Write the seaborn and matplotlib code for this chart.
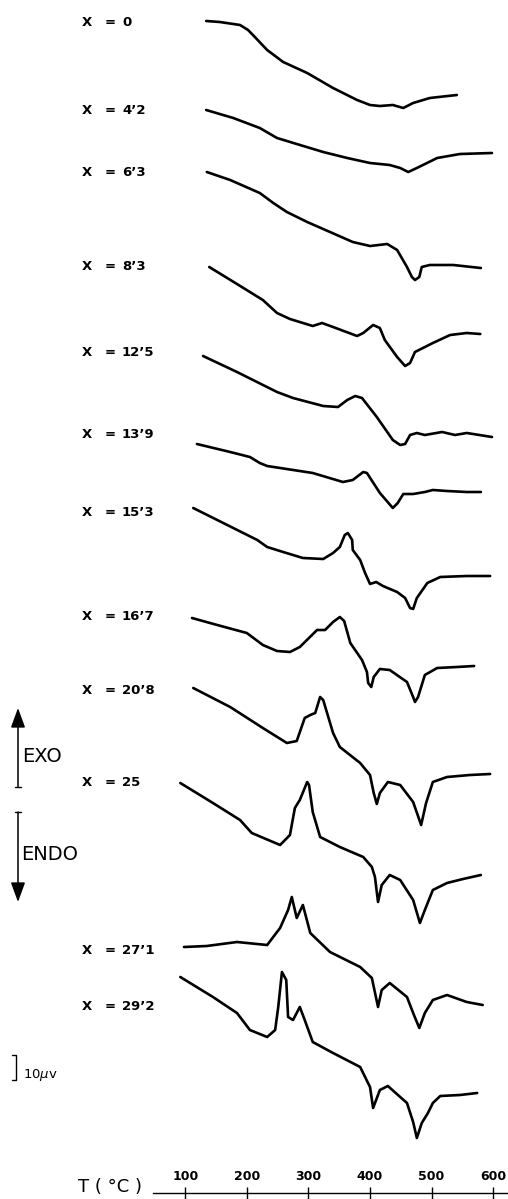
import matplotlib
matplotlib.use("Agg")
import matplotlib.pyplot as plt
import pandas as pd
import seaborn as sns
from matplotlib.transforms import blended_transform_factory

# composition labels (X = ...)
labels = ["0", "4’2", "6’3", "8’3", "12’5", "13’9", "15’3", "16’7", "20’8", "25", "27’1", "29’2"]

# baseline of each trace (µV, counted down from the top of the sheet)
offsets = [-8.4, -44.0, -68.8, -106.8, -142.4, -177.6, -203.2, -247.2, -275.2, -313.2, -378.8, -390.8]

# DTA traces: temperature (°C) and signal relative to the first point (µV, exo up)
t_00 = [134, 156, 189, 202, 213, 233, 259, 298, 340, 379, 400, 416, 437, 454, 470, 497, 541]
s_00 = [0, -0.4, -1.6, -3.6, -6.4, -11.6, -16.4, -20.8, -26.8, -31.6, -33.6, -34.0, -33.6, -34.8, -32.8, -30.8, -29.6]

t_04 = [134, 178, 221, 249, 281, 324, 363, 400, 432, 449, 462, 476, 509, 546, 598]
s_04 = [0, -3.2, -7.2, -11.2, -13.6, -16.8, -19.2, -21.2, -22.0, -23.2, -24.8, -23.2, -19.2, -17.6, -17.2]

t_06 = [135, 173, 221, 243, 265, 298, 335, 372, 400, 428, 444, 460, 468, 473, 480, 484, 497, 535, 580]
s_06 = [0, -3.2, -8.4, -12.4, -16.0, -20.0, -24.0, -28.0, -29.6, -28.8, -31.2, -38.0, -42.0, -43.2, -42.0, -38.0, -37.2, -37.2, -38.4]

t_08 = [139, 184, 226, 249, 270, 307, 322, 340, 379, 389, 405, 416, 424, 444, 457, 465, 473, 502, 530, 557, 579]
s_08 = [0, -6.8, -13.2, -18.4, -20.8, -23.6, -22.4, -24.0, -27.6, -26.4, -23.2, -24.4, -29.2, -36.0, -39.6, -38.4, -34.0, -30.4, -27.2, -26.4, -26.8]

t_12 = [129, 184, 249, 275, 324, 348, 363, 376, 387, 411, 437, 449, 457, 465, 476, 489, 517, 538, 557, 598]
s_12 = [0, -6.4, -14.4, -16.8, -20.0, -20.4, -17.6, -16.0, -16.8, -24.4, -33.6, -35.6, -35.2, -31.6, -30.8, -31.6, -30.4, -31.6, -30.8, -32.4]

t_13 = [119, 173, 205, 221, 233, 307, 356, 372, 389, 395, 416, 437, 445, 454, 470, 489, 502, 525, 557, 580]
s_13 = [0, -3.2, -5.2, -7.6, -8.8, -11.6, -15.2, -14.4, -11.2, -11.6, -19.6, -25.6, -23.6, -20.0, -20.0, -19.2, -18.4, -18.8, -19.2, -19.2]

t_15 = [113, 178, 217, 233, 259, 291, 324, 340, 351, 359, 364, 371, 372, 384, 392, 400, 410, 421, 444, 457, 465, 470, 476, 493, 514, 557, 595]
s_15 = [0, -8.0, -12.8, -15.6, -17.6, -20.0, -20.4, -18.0, -15.6, -10.8, -10.0, -12.8, -16.8, -20.8, -26.0, -30.4, -29.6, -31.2, -33.6, -36.0, -40.0, -40.4, -36.0, -30.0, -27.6, -27.2, -27.2]

t_16 = [111, 152, 200, 226, 249, 270, 286, 314, 327, 340, 351, 358, 368, 387, 395, 397, 402, 406, 416, 432, 460, 470, 473, 478, 489, 509, 541, 569]
s_16 = [0, -2.8, -6.0, -10.8, -13.2, -13.6, -11.6, -4.8, -4.8, -1.6, 0.4, -1.2, -10.0, -16.8, -21.6, -26.0, -27.6, -23.6, -20.4, -20.8, -25.6, -31.6, -33.6, -31.6, -22.8, -20.0, -19.6, -19.2]

t_20 = [113, 173, 226, 265, 281, 294, 303, 311, 319, 324, 340, 351, 384, 400, 406, 411, 416, 429, 449, 470, 483, 491, 502, 525, 562, 595]
s_20 = [0, -7.6, -16.0, -22.0, -21.2, -12.0, -10.8, -10.0, -3.6, -4.8, -18.0, -23.6, -30.0, -34.8, -42.0, -46.4, -42.0, -37.6, -38.8, -45.6, -54.8, -46.0, -37.6, -35.6, -34.8, -34.4]

t_25 = [92, 145, 189, 208, 254, 270, 278, 286, 298, 301, 307, 319, 351, 389, 403, 408, 413, 419, 432, 449, 470, 481, 489, 502, 525, 551, 580]
s_25 = [0, -8.0, -14.8, -20.0, -24.8, -20.8, -10.0, -6.8, 0.4, -0.8, -11.6, -21.6, -25.6, -29.6, -33.6, -37.6, -47.6, -40.8, -36.8, -38.8, -46.8, -56.0, -50.8, -42.8, -40.0, -38.4, -36.8]

t_27 = [98, 135, 184, 233, 254, 267, 273, 281, 291, 303, 335, 384, 403, 413, 419, 432, 460, 470, 480, 489, 502, 525, 557, 583]
s_27 = [0, 0.4, 2.0, 0.8, 7.6, 14.8, 20.0, 11.6, 16.8, 5.6, -2.0, -8.0, -12.4, -24.0, -17.2, -14.4, -20.0, -26.4, -32.4, -26.4, -21.2, -19.2, -22.0, -23.2]

t_29 = [92, 145, 184, 205, 233, 246, 251, 257, 264, 267, 275, 286, 294, 307, 340, 384, 400, 405, 416, 429, 449, 460, 470, 476, 484, 494, 502, 514, 546, 574]
s_29 = [0, -8.0, -14.4, -21.2, -24.0, -21.2, -12.0, 2.0, -1.2, -16.0, -17.2, -12.0, -17.2, -26.0, -30.4, -36.0, -44.0, -52.4, -45.2, -43.6, -48.0, -50.4, -58.0, -64.4, -58.4, -54.4, -50.4, -47.6, -47.2, -46.4]

temps = [t_00, t_04, t_06, t_08, t_12, t_13, t_15, t_16, t_20, t_25, t_27, t_29]
signals = [s_00, s_04, s_06, s_08, s_12, s_13, s_15, s_16, s_20, s_25, s_27, s_29]

temp_ticks = [100, 200, 300, 400, 500, 600]
scale_uv = 10

# layout (sheet is 508 x 1199 px)
W, H = 508, 1199
label_py = [22, 110, 173, 266, 352, 435, 513, 617, 690, 783, 950, 1006]

rows = []
for i, (t, s) in enumerate(zip(temps, signals)):
    for tt, ss in zip(t, s):
        rows.append({"curve": i, "T": tt, "y": offsets[i] + ss})
df = pd.DataFrame(rows)

sns.set_style("white")
plt.rcParams.update({"text.color": "black", "xtick.color": "black", "axes.edgecolor": "black"})

fig = plt.figure(figsize=(W / 100, H / 100), dpi=100)
ax = fig.add_axes([0, 0, 1, 1])
sns.lineplot(data=df, x="T", y="y", units="curve", estimator=None, sort=False,
             color="black", lw=1.9, legend=False, ax=ax,
             solid_capstyle="round", solid_joinstyle="round")
ax.set_xlim(-200.7, 624.0)
ax.set_ylim(-H * 0.4, 0)
ax.axis("off")

fx = lambda px: px / W
fy = lambda py: 1 - py / H
lab_font = dict(fontsize=9.5, fontweight="bold", va="center", color="black")
for lab, py in zip(labels, label_py):
    fig.text(fx(87), fy(py), "X", ha="center", **lab_font)
    fig.text(fx(110), fy(py), "=", ha="center", **lab_font)
    fig.text(fx(122), fy(py), lab, ha="left", **lab_font)

# EXO / ENDO arrows
arrow = dict(arrowstyle="-|>,head_length=0.6,head_width=0.22", color="black", lw=1.1,
             mutation_scale=20, shrinkA=0, shrinkB=0)
ax.annotate("", xy=(fx(18), fy(708)), xytext=(fx(18), fy(787)),
            xycoords="figure fraction", textcoords="figure fraction", arrowprops=arrow)
ax.annotate("", xy=(fx(18), fy(902)), xytext=(fx(18), fy(812)),
            xycoords="figure fraction", textcoords="figure fraction", arrowprops=arrow)
for py in (787, 812):
    fig.add_artist(plt.Line2D([fx(15), fx(21)], [fy(py), fy(py)], color="black", lw=1.0))
fig.text(fx(22), fy(757), "EXO", fontsize=14, va="center", ha="left", color="black")
fig.text(fx(21), fy(855), "ENDO", fontsize=14, va="center", ha="left", color="black")

# 10 µV scale bar, drawn in signal units
tr = blended_transform_factory(fig.transFigure, ax.transData)
y_top = -1055 * 0.4
ax.plot([fx(12), fx(16), fx(16), fx(12)], [y_top, y_top, y_top - scale_uv, y_top - scale_uv],
        color="black", lw=1.0, transform=tr)
fig.text(fx(23), fy(1075), "10$\\mu$v", fontsize=9.5, va="center", ha="left", color="black")

# temperature axis
ax_t = fig.add_axes([fx(153), 0, (W - 153) / W, 6 / H])
ax_t.set_xlim(400 + (153 - 370) * 1.6234, 624.0)
ax_t.set_ylim(0, 1)
for side in ("left", "right", "bottom"):
    ax_t.spines[side].set_visible(False)
ax_t.spines["top"].set_linewidth(1.0)
ax_t.spines["top"].set_color("black")
ax_t.set_yticks([])
ax_t.set_xticks(temp_ticks)
ax_t.set_xticklabels([str(t) for t in temp_ticks], fontsize=9, fontweight="bold", color="black")
ax_t.xaxis.set_ticks_position("top")
ax_t.tick_params(axis="x", direction="inout", length=9, width=1.0, pad=3, colors="black",
                 top=True, bottom=False, labeltop=True, labelbottom=False)
ax_t.patch.set_alpha(0)
fig.text(fx(110), fy(1187), "T ( °C )", fontsize=13, va="center", ha="center", color="black")

fig.savefig("out.png", dpi=100)
